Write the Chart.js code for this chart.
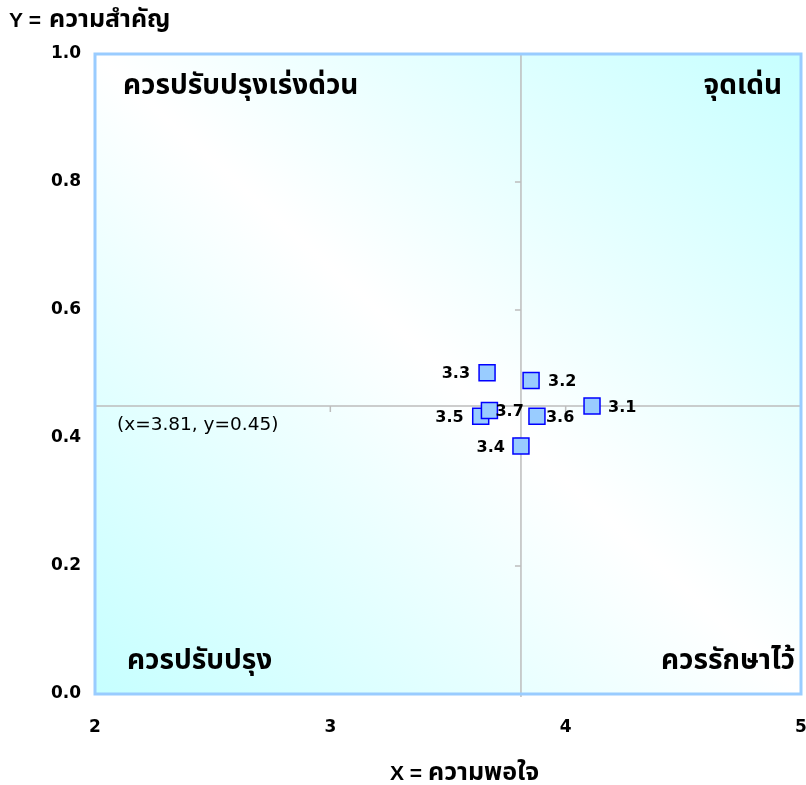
<!DOCTYPE html>
<html><head><meta charset="utf-8">
<script src="https://cdn.jsdelivr.net/npm/chart.js@4.4.1/dist/chart.umd.min.js"></script>
<style>html,body{margin:0;padding:0;background:#fff;} canvas{display:block;}</style>
</head><body>
<div style="width:806px;height:785px;position:relative;"><canvas id="c" width="806" height="785"></canvas></div>
<script>
// ---- data ----
const pointLabels = ['3.1', '3.2', '3.3', '3.4', '3.5', '3.6', '3.7'];
const satisfactionX = [4.112, 3.853, 3.666, 3.810, 3.639, 3.878, 3.676];
const importanceY = [0.450, 0.490, 0.502, 0.3875, 0.434, 0.434, 0.443];
const xTicks = [2, 3, 4, 5];
const yTicks = [0.0, 0.2, 0.4, 0.6, 0.8, 1.0];
const meanX = 3.81;
const meanY = 0.45;
const quadrantLabels = ['ควรปรับปรุงเร่งด่วน', 'จุดเด่น', 'ควรปรับปรุง', 'ควรรักษาไว้'];
const xTitleLatin = 'X =';
const xTitleThai = 'ความพอใจ';
const yTitleLatin = 'Y =';
const yTitleThai = 'ความสำคัญ';
const meanLabel = '(x=' + meanX + ', y=' + meanY + ')';

const THAI = 'Tahoma, "Noto Sans Thai", "Noto Sans Thai UI", Loma, Garuda, "DejaVu Sans", sans-serif';
const LATIN = '"DejaVu Sans", Verdana, sans-serif';
const ARIAL = '"Liberation Sans", Arial, sans-serif';

function drawMixed(ctx, latin, thai, x, y, gap) {
  ctx.textAlign = 'left';
  ctx.textBaseline = 'alphabetic';
  ctx.font = 'bold 21px ' + ARIAL;
  ctx.fillText(latin, x, y);
  ctx.font = 'bold 25px ' + THAI;
  ctx.fillText(thai, x + gap, y);
}

const quadrantPlugin = {
  id: 'quadrant',
  beforeDraw(chart, args, opts) {
    const { ctx, chartArea: a } = chart;
    ctx.save();
    ctx.translate(a.left, a.top);
    ctx.scale(a.right - a.left, a.bottom - a.top);
    const g = ctx.createLinearGradient(0, 1, 1, 0);
    g.addColorStop(0, '#C6FFFF');
    g.addColorStop(0.5, '#FFFFFF');
    g.addColorStop(1, '#C6FFFF');
    ctx.fillStyle = g;
    ctx.fillRect(0, 0, 1, 1);
    ctx.restore();
  },
  beforeDatasetsDraw(chart, args, opts) {
    const { ctx, chartArea: a, scales: { x, y } } = chart;
    const mx = x.getPixelForValue(meanX);
    const my = y.getPixelForValue(meanY);
    ctx.save();
    ctx.strokeStyle = '#BDBDBD';
    ctx.lineWidth = 1.5;
    ctx.beginPath();
    ctx.moveTo(mx, a.top); ctx.lineTo(mx, a.bottom + 3);
    ctx.moveTo(a.left, my); ctx.lineTo(a.right, my);
    yTicks.forEach(v => { const py = y.getPixelForValue(v); ctx.moveTo(mx - 6, py); ctx.lineTo(mx, py); });
    xTicks.forEach(v => { const px = x.getPixelForValue(v); ctx.moveTo(px, my); ctx.lineTo(px, my + 6); });
    ctx.stroke();
    // plot border
    ctx.strokeStyle = '#99CCFF';
    ctx.lineWidth = 3;
    ctx.strokeRect(a.left, a.top, a.right - a.left, a.bottom - a.top);
    // quadrant texts
    ctx.fillStyle = '#000';
    ctx.font = 'bold 28px ' + THAI;
    ctx.textBaseline = 'middle';
    ctx.textAlign = 'left';
    ctx.fillText(quadrantLabels[0], a.left + 28, a.top + 34);
    ctx.fillText(quadrantLabels[2], a.left + 32, a.bottom - 31);
    ctx.textAlign = 'right';
    ctx.fillText(quadrantLabels[1], a.right - 19, a.top + 34);
    ctx.fillText(quadrantLabels[3], a.right - 6, a.bottom - 31);
    // mean label
    ctx.textAlign = 'left';
    ctx.font = '18.5px ' + LATIN;
    ctx.fillText(meanLabel, a.left + 22, my + 19);
    ctx.restore();
  },
  afterDatasetsDraw(chart, args, opts) {
    const { ctx } = chart;
    const meta = chart.getDatasetMeta(0);
    ctx.save();
    ctx.fillStyle = '#000';
    ctx.font = 'bold 16px ' + LATIN;
    ctx.textBaseline = 'middle';
    meta.data.forEach((pt, i) => {
      const off = opts.offsets[i];
      ctx.textAlign = off >= 0 ? 'left' : 'right';
      ctx.fillText(pointLabels[i], pt.x + off, pt.y + 1.5);
    });
    ctx.restore();
  },
  afterDraw(chart) {
    const { ctx } = chart;
    ctx.save();
    ctx.fillStyle = '#000';
    drawMixed(ctx, yTitleLatin, yTitleThai, 9, 27, 40);
    drawMixed(ctx, xTitleLatin, xTitleThai, 390, 780, 38);
    ctx.restore();
  }
};

new Chart(document.getElementById('c'), {
  type: 'scatter',
  data: {
    datasets: [{
      data: satisfactionX.map((v, i) => ({ x: v, y: importanceY[i] })),
      pointStyle: 'rect',
      pointRadius: 11.3,
      pointHoverRadius: 11.3,
      backgroundColor: '#99CCFF',
      borderColor: '#0000FF',
      borderWidth: 1.5
    }]
  },
  plugins: [quadrantPlugin],
  options: {
    responsive: false,
    animation: false,
    devicePixelRatio: 1,
    layout: { autoPadding: false, padding: { top: 54, right: 5, left: 0, bottom: 0 } },
    plugins: {
      legend: { display: false },
      tooltip: { enabled: false },
      quadrant: { offsets: [16, 17, -17, -16, -17, 9, 6] }
    },
    scales: {
      x: {
        type: 'linear', min: xTicks[0], max: xTicks[xTicks.length - 1],
        afterBuildTicks: s => { s.ticks = xTicks.map(v => ({ value: v })); },
        afterFit: s => { s.height = 91; s.paddingLeft = 0; s.paddingRight = 0; },
        grid: { display: false, drawTicks: false },
        border: { display: false },
        ticks: { padding: 23, color: '#000', font: { family: LATIN, weight: 'bold', size: 17 }, callback: v => String(v) }
      },
      y: {
        type: 'linear', min: yTicks[0], max: yTicks[yTicks.length - 1],
        afterBuildTicks: s => { s.ticks = yTicks.map(v => ({ value: v })); },
        afterFit: s => { s.width = 95; s.paddingTop = 0; s.paddingBottom = 0; },
        grid: { display: false, drawTicks: false },
        border: { display: false },
        ticks: { padding: 14, color: '#000', font: { family: LATIN, weight: 'bold', size: 17 }, callback: v => Number(v).toFixed(1) }
      }
    }
  }
});
</script>
</body></html>
